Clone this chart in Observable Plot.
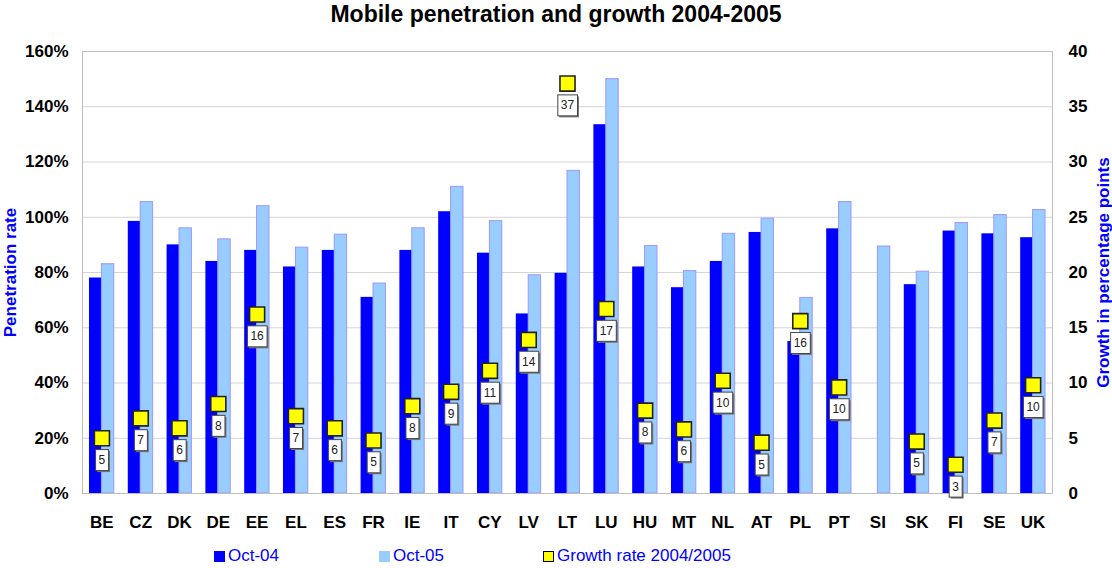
<!DOCTYPE html>
<html><head><meta charset="utf-8">
<script src="https://cdn.jsdelivr.net/npm/d3@7"></script>
<script src="https://cdn.jsdelivr.net/npm/@observablehq/plot@0.6"></script>
<style>
body{margin:0;background:#fff;font-family:"Liberation Sans",Arial,sans-serif;}
#wrap{position:relative;width:1112px;height:568px;overflow:hidden;background:#fff}
#title{height:28px;line-height:28px;text-align:center;font-weight:bold;font-size:23px;color:#000}
#legend{position:absolute;top:535px;left:0;width:1112px;height:33px}
.item{position:absolute;top:11px;height:20px;line-height:20px;display:flex;align-items:center;font-size:17px;color:#0000ff;white-space:nowrap}
.sw{width:11px;height:11px;margin-right:3px;box-sizing:border-box}
g[aria-label="y-axis label"] text{fill:#0000ff}
</style>
</head><body>
<div id="wrap">
  <div id="title">Mobile penetration and growth 2004-2005</div>
  <div id="chart"></div>
  <div id="legend"></div>
</div>
<script>
const countries = ["BE","CZ","DK","DE","EE","EL","ES","FR","IE","IT","CY","LV","LT","LU","HU","MT","NL","AT","PL","PT","SI","SK","FI","SE","UK"];
const oct04 = [78, 98.5, 90, 84, 88, 82, 88, 71, 88, 102, 87, 65, 79.7, 133.5, 82, 74.5, 84, 94.5, 55, 95.8, null, 75.6, 95, 94, 92.6];
const oct05 = [83, 105.5, 96, 92, 104, 89, 93.7, 76, 96, 111, 98.6, 79, 116.8, 150, 89.6, 80.5, 94, 99.5, 70.8, 105.5, 89.4, 80.3, 97.9, 100.8, 102.6];
const growth = [5.0, 6.8, 5.9, 8.1, 16.2, 7.0, 5.9, 4.8, 7.9, 9.2, 11.1, 13.9, 37.1, 16.7, 7.5, 5.8, 10.2, 4.6, 15.6, 9.6, null, 4.7, 2.6, 6.6, 9.8];
const growthLabels = [5, 7, 6, 8, 16, 7, 6, 5, 8, 9, 11, 14, 37, 17, 8, 6, 10, 5, 16, 10, null, 5, 3, 7, 10];
const penetrationTicks = [0, 0.2, 0.4, 0.6, 0.8, 1.0, 1.2, 1.4, 1.6];
const growthTicks = [0, 5, 10, 15, 20, 25, 30, 35, 40];
const seriesNames = ["Oct-04", "Oct-05", "Growth rate 2004/2005"];
const colors = {"Oct-04": "#0000ff", "Oct-05": "#99ccff", growth: "#ffff00"};

const W = 1112, H = 507, ML = 82, MR = 60, MT = 23, MB = 42;
const bw = (W - ML - MR) / countries.length;
const outerInset = bw * 0.18;

const rows04 = countries.map((c, i) => ({country: c, value: oct04[i] == null ? null : oct04[i] / 100})).filter(d => d.value != null);
const rows05 = countries.map((c, i) => ({country: c, value: oct05[i] == null ? null : oct05[i] / 100})).filter(d => d.value != null);
const rowsG = countries.map((c, i) => ({country: c, g: growth[i], label: growthLabels[i]})).filter(d => d.g != null);
const g2y = 1.6 / 40;

const plot = Plot.plot({
  width: W, height: H,
  marginLeft: ML, marginRight: MR, marginTop: MT, marginBottom: MB,
  style: {fontFamily: '"Liberation Sans", Arial, sans-serif', fontSize: "17px", fontWeight: "bold", color: "#000", background: "#fff"},
  x: {domain: countries, padding: 0, round: false},
  y: {domain: [0, 1.6]},
  marks: [
    Plot.gridY(penetrationTicks, {stroke: "#d4d4d4", strokeOpacity: 1}),
    Plot.barY(rows04, {x: "country", y: "value", fill: colors["Oct-04"], insetLeft: outerInset, insetRight: bw / 2}),
    Plot.barY(rows05, {x: "country", y: "value", fill: colors["Oct-05"], stroke: "#9999ff", strokeWidth: 1, insetLeft: bw / 2, insetRight: outerInset}),
    Plot.frame({stroke: "#bdbdbd"}),
    Plot.axisX({tickSize: 0, tickPadding: 22, label: null, fontSize: 17}),
    Plot.axisY(penetrationTicks, {anchor: "left", tickSize: 0, tickPadding: 14, tickFormat: d3.format(".0%"), label: "Penetration rate", labelAnchor: "center", labelOffset: 79, labelArrow: "none", fontSize: 17}),
    Plot.axisY(growthTicks.map(t => t * g2y), {anchor: "right", tickSize: 0, tickPadding: 16, tickFormat: d => Math.round(d / g2y), label: "Growth in percentage points", labelAnchor: "center", labelOffset: 56, labelArrow: "none", fontSize: 17}),
    Plot.dot(rowsG, {x: "country", y: d => d.g * g2y, symbol: "square", r: 8.5, fill: colors.growth, stroke: "#222", strokeWidth: 1.6}),
    Plot.text(rowsG, {x: "country", y: d => d.g * g2y, text: d => String(d.label), dy: 22, fontSize: 12, fontWeight: "normal", fill: "#222", ariaDescription: "growth-labels"})
  ]
});
document.getElementById("chart").appendChild(plot);

// white boxes behind growth labels
const ns = "http://www.w3.org/2000/svg";
const groups = Array.from(plot.querySelectorAll("g")).filter(g => g.getAttribute("aria-description") === "growth-labels");
let texts = [];
groups.forEach(g => texts.push(...g.querySelectorAll("text")));
texts.forEach(t => {
  const b = t.getBBox();
  const w = b.width + 6, h = 21;
  const x = b.x + b.width / 2 - w / 2, y = b.y + b.height / 2 - h / 2;
  const tr = t.getAttribute("transform");
  const sh = document.createElementNS(ns, "rect");
  sh.setAttribute("x", x + 1.5); sh.setAttribute("y", y + 1.5);
  sh.setAttribute("width", w); sh.setAttribute("height", h);
  sh.setAttribute("fill", "#777"); sh.setAttribute("stroke", "none");
  const r = document.createElementNS(ns, "rect");
  r.setAttribute("x", x); r.setAttribute("y", y);
  r.setAttribute("width", w); r.setAttribute("height", h);
  r.setAttribute("fill", "#fff"); r.setAttribute("stroke", "#444"); r.setAttribute("stroke-width", "1");
  if (tr) { sh.setAttribute("transform", tr); r.setAttribute("transform", tr); }
  t.parentNode.insertBefore(sh, t);
  t.parentNode.insertBefore(r, t);
});

// legend
const legend = document.getElementById("legend");
const legendItems = [
  {name: seriesNames[0], left: 214, fill: colors["Oct-04"], border: "none"},
  {name: seriesNames[1], left: 379, fill: colors["Oct-05"], border: "none"},
  {name: seriesNames[2], left: 543, fill: colors.growth, border: "1.5px solid #000"}
];
legendItems.forEach(it => {
  const d = document.createElement("div");
  d.className = "item";
  d.style.left = it.left + "px";
  const s = document.createElement("span");
  s.className = "sw";
  s.style.background = it.fill;
  s.style.border = it.border;
  d.appendChild(s);
  d.appendChild(document.createTextNode(it.name));
  legend.appendChild(d);
});
</script>
</body></html>
